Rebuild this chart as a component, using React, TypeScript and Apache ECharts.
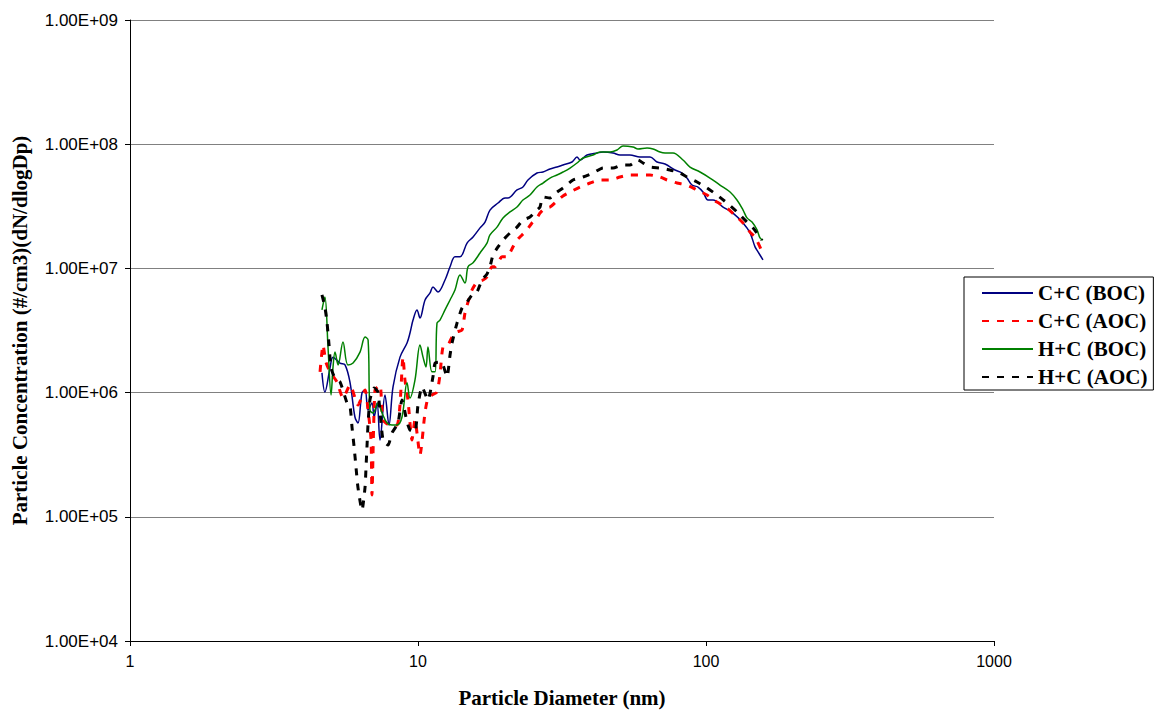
import React, { useEffect, useRef } from "react";
import * as echarts from "echarts";

const xTicks = ["1", "10", "100", "1000"];
const yTicks = ["1.00E+04", "1.00E+05", "1.00E+06", "1.00E+07", "1.00E+08", "1.00E+09"];

const ccBocD = [4.64,4.75,4.95,5.07,5.36,5.58,5.81,6.04,6.19,6.39,6.55,6.71,6.92,7.04,7.21,7.38,7.68,7.93,8.19,8.66,9.16,9.38,9.61,9.92,10.16,10.58,11.01,11.27,11.73,12.41,12.92,13.44,13.99,14.8,15.53,16.42,17.09,17.78,18.96,20.05,20.54,22.07,23.14,24.09,25.89,27.16,28.73,30.38,31.88,34.26,35.65,36.52,38.63,41.84,43.9,47.55,50.27,54.45,59.0,63.92,67.61,72.07,78.05,82.54,85.9,89.42,93.81,97.63,101.6,105.8,114.6,124.1,134.5,142.2,148.0,151.6,157.7];
const ccBocC = [1.44e6,1.01e6,1.58e6,1.93e6,1.73e6,1.67e6,1.2e6,6.36e5,5.69e5,9.93e5,1.05e6,7.24e5,8.25e5,6.36e5,8.25e5,4.15e5,9.56e5,5.48e5,1.11e6,1.93e6,2.51e6,3.02e6,3.84e6,4.63e6,3.99e6,5.57e6,6.34e6,7.08e6,6.46e6,8.07e6,1.03e7,1.24e7,1.24e7,1.6e7,1.79e7,2.12e7,2.36e7,2.95e7,3.36e7,3.69e7,3.69e7,4.28e7,4.52e7,5.15e7,5.86e7,5.97e7,6.31e7,6.55e7,6.8e7,7.19e7,7.89e7,7.46e7,8.18e7,8.5e7,8.65e7,8.5e7,8.18e7,8.18e7,7.89e7,7.89e7,7.19e7,6.93e7,6.2e7,5.86e7,5.34e7,4.69e7,4.52e7,4.12e7,3.55e7,3.55e7,3.12e7,2.79e7,2.32e7,1.93e7,1.49e7,1.36e7,1.17e7];

const ccAocD = [4.57,4.68,4.79,4.95,5.23,5.49,5.81,6.19,6.55,6.71,6.87,6.92,7.09,7.38,7.56,7.99,8.45,8.66,8.87,9.01,9.23,9.53,9.76,10.16,10.58,10.83,11.18,11.64,11.92,12.21,12.71,13.13,13.66,14.22,14.56,14.92,15.4,16.03,16.82,17.36,18.07,18.51,19.57,20.37,21.37,22.07,22.97,23.9,24.87,25.89,26.52,27.61,28.73,30.38,31.88,33.72,36.52,39.56,42.86,46.42,50.27,54.45,59.0,63.92,69.25,73.22,79.3,85.9,93.06,100.8,109.2,118.3,128.1,134.5,142.2,148.0,155.2];
const ccAocC = [1.47e6,2.42e6,1.76e6,1.47e6,1.22e6,9.05e5,1.15e6,7.95e5,1.05e6,7.24e5,4.15e5,1.5e5,1.05e6,1.15e6,6.02e5,5.48e5,5.48e5,7.95e5,1.93e6,1.26e6,8.72e5,4.15e5,6.02e5,3.15e5,6.98e5,9.05e5,9.56e5,1.01e6,1.39e6,2.33e6,2.42e6,2.8e6,3.08e6,3.19e6,4.38e6,5.36e6,6.7e6,7.77e6,8.07e6,8.53e6,1.03e7,1.03e7,1.24e7,1.24e7,1.49e7,1.69e7,1.86e7,2.04e7,2.32e7,2.55e7,2.79e7,3.06e7,3.12e7,3.49e7,3.83e7,4.12e7,4.52e7,4.87e7,5.15e7,5.15e7,5.44e7,5.65e7,5.65e7,5.65e7,5.44e7,5.15e7,4.87e7,4.69e7,4.28e7,3.9e7,3.42e7,3.06e7,2.59e7,2.32e7,1.96e7,1.79e7,1.43e7];

const hcBocD = [4.64,4.75,4.87,4.99,5.07,5.15,5.28,5.49,5.71,5.95,6.29,6.55,6.71,6.81,6.98,7.26,7.5,7.81,8.12,8.45,8.8,9.16,9.38,9.76,10.16,10.41,10.66,10.83,11.18,11.46,11.64,11.92,12.41,12.92,13.44,13.99,14.56,14.92,15.53,16.42,17.36,17.78,18.81,19.73,20.87,22.07,23.14,24.48,25.89,27.16,28.73,30.38,31.88,33.72,35.65,37.41,40.52,42.86,46.42,49.1,51.5,55.78,58.06,62.4,65.46,69.25,72.07,76.81,83.2,87.99,95.33,103.2,111.8,121.2,128.1,134.5,138.8,144.5,150.4,154.0,157.7];
const hcBocC = [4.63e6,5.89e6,2.33e6,9.56e5,1.61e6,2.12e6,1.67e6,2.56e6,1.67e6,1.73e6,2.12e6,2.8e6,2.65e6,7.24e5,6.85e5,8.25e5,6.85e5,5.69e5,5.48e5,5.48e5,6.36e5,1.2e6,9.05e5,1.26e6,2.42e6,1.93e6,1.61e6,2.33e6,1.47e6,1.47e6,3.63e6,3.84e6,4.63e6,5.57e6,6.7e6,8.85e6,7.63e6,1.03e7,1.11e7,1.33e7,1.6e7,1.86e7,2.15e7,2.55e7,2.85e7,3.12e7,3.55e7,3.9e7,4.52e7,4.87e7,5.34e7,5.65e7,5.97e7,6.43e7,7.06e7,7.74e7,8.18e7,8.65e7,8.65e7,8.98e7,9.67e7,9.49e7,9.15e7,9.32e7,9.15e7,8.65e7,8.5e7,8.5e7,7.46e7,6.55e7,5.97e7,5.34e7,4.69e7,4.12e7,3.55e7,2.95e7,2.55e7,2.36e7,2.04e7,1.76e7,1.69e7];

const hcAocD = [4.64,4.75,4.83,4.91,4.99,5.15,5.36,5.67,5.81,5.9,6.0,6.09,6.19,6.39,6.55,6.6,6.65,6.71,6.81,7.04,7.26,7.56,7.87,8.12,8.52,8.8,9.16,9.38,9.76,10.0,10.33,10.83,11.27,11.46,11.92,12.21,12.61,12.92,13.13,13.66,14.22,14.8,15.4,16.03,16.68,17.36,17.78,18.21,18.96,19.73,20.87,22.07,23.14,24.48,25.89,26.52,27.16,28.73,30.38,31.88,34.53,37.41,40.52,43.9,47.55,51.09,54.45,58.06,60.43,63.92,69.25,74.99,81.22,85.9,93.06,100.8,109.2,118.3,128.1,138.8,145.6,156.5];
const hcAocC = [6.11e6,4.89e6,3.7e6,2.42e6,1.58e6,1.31e6,1.22e6,8.25e5,7.66e5,5.28e5,3.65e5,2.52e5,1.71e5,1.13e5,1.74e5,2.52e5,3.65e5,5.69e5,8.72e5,1.09e6,1.01e6,4.15e5,3.78e5,4.73e5,5.69e5,8.72e5,5.8e5,5.0e5,4.82e5,7.95e5,1.11e6,8.72e5,1.34e6,1.73e6,1.76e6,1.67e6,1.34e6,2.01e6,2.51e6,3.63e6,4.8e6,5.36e6,6.11e6,6.46e6,8.07e6,9.01e6,1.03e7,1.28e7,1.49e7,1.69e7,1.93e7,2.15e7,2.45e7,2.59e7,2.95e7,3.12e7,3.76e7,3.69e7,4.12e7,4.44e7,5.15e7,5.44e7,5.86e7,6.43e7,6.43e7,6.8e7,6.8e7,7.46e7,7.06e7,6.55e7,6.43e7,6.2e7,5.86e7,5.44e7,4.96e7,4.44e7,3.9e7,3.36e7,2.85e7,2.36e7,2.12e7,1.69e7];

const seriesNames = ["C+C (BOC)", "C+C (AOC)", "H+C (BOC)", "H+C (AOC)"];
const seriesColors = ["#000080", "#ff0000", "#008000", "#000000"];

const pairs = (d: number[], c: number[]) => d.map((v, i) => [v, c[i]]);

export default function App() {
  const ref = useRef<HTMLDivElement>(null);
  useEffect(() => {
    document.body.style.margin = "0";
    if (!ref.current) return;
    const chart = echarts.init(ref.current, undefined, { renderer: "svg" });
    const datasets = [pairs(ccBocD, ccBocC), pairs(ccAocD, ccAocC), pairs(hcBocD, hcBocC), pairs(hcAocD, hcAocC)];
    const dashed = [false, true, false, true];
    const yLabelFor = (v: number) => {
      const e = Math.round(Math.log10(v));
      return yTicks[e - 4] ?? "";
    };
    const xLabelFor = (v: number) => {
      const e = Math.round(Math.log10(v));
      return xTicks[e] ?? "";
    };
    chart.setOption({
      animation: false,
      backgroundColor: "#ffffff",
      grid: { left: 130, right: 160, top: 20, bottom: 72, containLabel: false },
      legend: {
        orient: "vertical",
        left: 964,
        top: 277,
        backgroundColor: "#ffffff",
        borderColor: "#000000",
        borderWidth: 1,
        borderRadius: 0,
        padding: [4, 6, 1, 17],
        itemGap: 4,
        itemWidth: 51,
        itemHeight: 14,
        selectedMode: false,
        itemStyle: { opacity: 0, color: "transparent", borderWidth: 0 },
        data: seriesNames,
        textStyle: {
          fontFamily: "Liberation Serif",
          fontWeight: "bold",
          fontSize: 21,
          lineHeight: 24,
          color: "#000000",
        },
      },
      xAxis: {
        type: "log",
        logBase: 10,
        min: 1,
        max: 1000,
        splitNumber: 3,
        name: "Particle Diameter (nm)",
        nameLocation: "middle",
        nameGap: 46,
        nameTextStyle: { fontFamily: "Liberation Serif", fontWeight: "bold", fontSize: 21, color: "#000" },
        axisLine: { lineStyle: { color: "#000", width: 1 } },
        axisTick: { show: true, length: 5, lineStyle: { color: "#000" } },
        minorTick: { show: false },
        splitLine: { show: false },
        axisLabel: {
          formatter: xLabelFor,
          fontFamily: "Liberation Sans",
          fontSize: 16,
          color: "#000",
          margin: 12,
        },
      },
      yAxis: {
        type: "log",
        logBase: 10,
        min: 1e4,
        max: 1e9,
        splitNumber: 5,
        name: "Particle Concentration (#/cm3)(dN/dlogDp)",
        nameLocation: "middle",
        nameGap: 100,
        nameTextStyle: { fontFamily: "Liberation Serif", fontWeight: "bold", fontSize: 21, color: "#000" },
        axisLine: { show: true, lineStyle: { color: "#000", width: 1 } },
        axisTick: { show: true, length: 5, lineStyle: { color: "#000" } },
        splitLine: { show: true, lineStyle: { color: "#808080", width: 1 } },
        axisLabel: {
          formatter: yLabelFor,
          fontFamily: "Liberation Sans",
          fontSize: 17,
          color: "#000",
          margin: 12,
        },
      },
      series: datasets.map((data, i) => ({
        name: seriesNames[i],
        type: "line",
        data,
        symbol: "none",
        smooth: dashed[i] ? 0.2 : 0.35,
        color: seriesColors[i],
        lineStyle: {
          color: seriesColors[i],
          width: dashed[i] ? 3 : 1.5,
          type: dashed[i] ? [7, 8] : "solid",
        },
        z: [2, 3, 4, 5][i],
      })),
    });
    return () => chart.dispose();
  }, []);
  return <div ref={ref} style={{ width: 1154, height: 713 }} />;
}
